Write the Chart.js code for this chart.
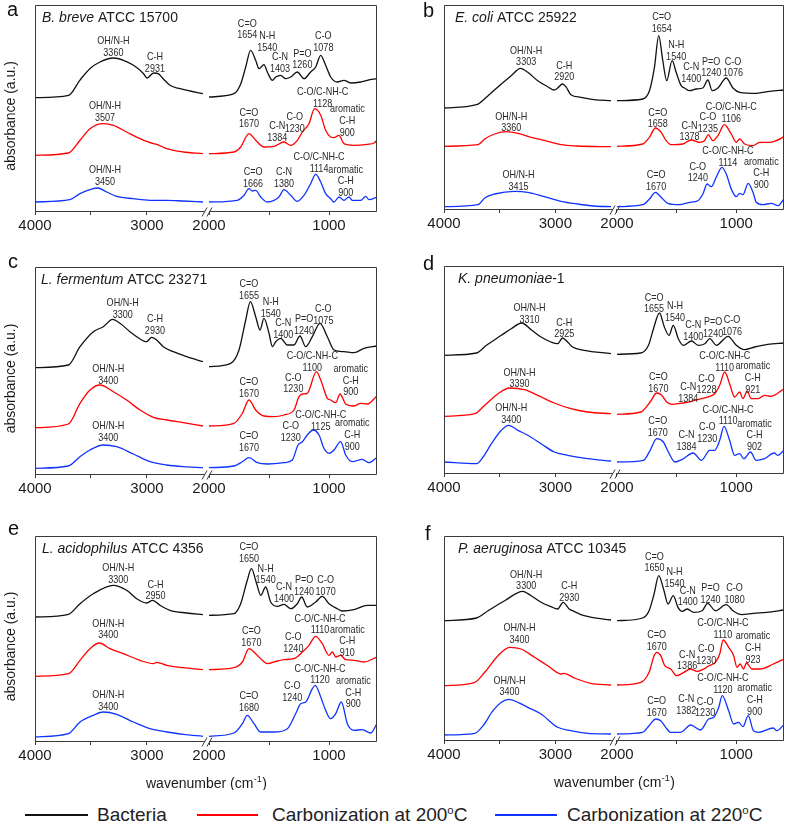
<!DOCTYPE html>
<html><head><meta charset="utf-8">
<script src="https://cdn.jsdelivr.net/npm/chart.js@4.4.1/dist/chart.umd.min.js"></script>
<style>
body{margin:0;background:#fff;width:789px;height:824px;position:relative;overflow:hidden;font-family:"Liberation Sans",Arial,sans-serif;}
canvas{position:absolute;}
.letter{position:absolute;font-size:20px;line-height:20px;color:#111;}
.li{position:absolute;top:803px;height:24px;line-height:24px;white-space:nowrap;font-size:19px;color:#222;}
.li sup{font-size:60%;vertical-align:top;line-height:14px;}
.ln{position:absolute;top:814px;height:2px;}
</style></head><body>
<script>
// ---------- DATA (wavenumber cm-1, absorbance a.u.) ----------
const panelLetters = ['a','b','c','d','e','f'];
const species = ['B. breve','E. coli','L. fermentum','K. pneumoniae','L. acidophilus','P. aeruginosa'];
const strains = [' ATCC 15700',' ATCC 25922',' ATCC 23271','-1',' ATCC 4356',' ATCC 10345'];
const seriesNames = ['Bacteria','Carbonization at 200°C','Carbonization at 220°C'];
const leftTicks = [4000, 3500, 3000];
const rightTicks = [2000, 1500, 1000];

const aBacteria = [[4000,113.3],[3700,115.7],[3600,130.7],[3510,142.3],[3420,149],[3300,153],[3210,150.7],[3120,145.7],[3030,137.3],[3000,133],[2940,138],[2900,137.3],[2855,132.3],[2795,125.7],[2705,122.3],[2615,120],[2500,117.3],
 [2000,114],[1792,117.3],[1736,127],[1694,144],[1653,160.7],[1611,150.7],[1583,142.3],[1542,146.3],[1514,139],[1472,130.7],[1444,134],[1403,135.7],[1361,132.3],[1319,134],[1264,139],[1208,132.3],[1153,139],[1111,144],[1069,155.7],[1028,145.7],[986,134],[931,129],[875,130.7],[819,128],[736,129],[681,130.7],[600,132.3]];
const aC200 = [[4000,55.7],[3702,58],[3598,70.7],[3509,82.3],[3390,87.3],[3300,85.7],[3182,79],[3062,72.3],[2943,67.3],[2914,66.7],[2824,62.3],[2676,59],[2500,57.3],
 [2000,57.3],[1792,59],[1736,64],[1667,77.3],[1611,70.7],[1542,64],[1458,64.7],[1375,69],[1319,65.7],[1264,70.7],[1222,79],[1167,87.3],[1120,102.3],[1069,95.7],[1028,80.7],[986,74],[958,73.3],[917,75.7],[875,67.3],[792,65.7],[681,66.7],[625,68],[600,70.7]];
const aC220 = [[4000,9],[3688,11.3],[3598,17.3],[3509,21.3],[3440,23],[3360,19],[3271,14.7],[3122,12.3],[2973,10.7],[2824,10.7],[2676,10],[2500,9],
 [2000,9],[1764,10.7],[1708,15.7],[1667,22.3],[1639,20],[1611,20.7],[1569,14],[1514,9],[1458,10.7],[1417,14],[1375,21.3],[1319,15.7],[1264,9.7],[1208,15.7],[1153,27.3],[1111,36.7],[1069,29],[1028,17.3],[986,12.3],[958,9],[917,14],[875,10.7],[833,14],[806,10.7],[736,10.7],[694,14.7],[667,11.3],[600,14]];

const bBacteria = [[4000,101],[3708,104.3],[3604,113.3],[3485,125],[3396,133.3],[3313,140.7],[3247,136.7],[3158,128.3],[3068,122.3],[3009,119],[2979,121],[2935,125],[2905,122.3],[2860,114.3],[2771,111.7],[2652,109.3],[2500,108.3],
 [2000,108.3],[1784,110],[1728,118.3],[1686,141.7],[1650,173.3],[1616,148.3],[1583,128.3],[1538,148.3],[1504,136.7],[1462,123.3],[1434,121],[1392,118.3],[1336,120],[1280,121],[1238,129],[1202,118.3],[1154,121],[1084,131],[1028,121],[972,116.7],[832,115.7],[720,117.7],[600,119]];
const bC200 = [[4000,62.7],[3694,64.3],[3634,70],[3545,75],[3440,77.3],[3336,75.7],[3217,71.7],[3068,67.7],[2949,64.3],[2801,63],[2500,62.3],
 [2000,62.7],[1784,65],[1728,71.7],[1678,81],[1630,76.7],[1588,68.3],[1546,64.3],[1448,65],[1378,69],[1308,66.7],[1266,68.3],[1235,74.3],[1196,68.3],[1154,73.3],[1100,84.3],[1042,75],[1000,66.7],[972,70],[930,65],[860,63.3],[804,66.7],[720,66.7],[664,68.3],[600,72.3]];
const bC220 = [[4000,2.3],[3694,4.3],[3634,11],[3545,15],[3366,17.7],[3247,16.7],[3098,12.3],[2949,7.7],[2801,5],[2652,3],[2500,2.3],
 [2000,2.3],[1784,4.3],[1728,10],[1678,16.7],[1630,11.7],[1574,5.7],[1476,4.3],[1392,6.7],[1322,8.3],[1280,15],[1244,25],[1210,22.3],[1168,31.7],[1120,41.7],[1084,35],[1042,20],[1000,12.3],[972,15.7],[944,14.3],[900,25.7],[860,16.7],[832,6.7],[776,4.3],[706,5.7],[650,3.3],[600,10]];

const cBacteria = [[4000,106.3],[3702,109],[3598,127.3],[3479,142.3],[3390,147.3],[3307,154.7],[3241,150.7],[3152,142.3],[3092,137.3],[3003,132.3],[2958,136.7],[2914,134],[2854,127.3],[2765,122.3],[2646,117.3],[2500,112.3],
 [2000,107.3],[1819,110.7],[1750,124],[1694,154],[1655,172.3],[1611,157.3],[1575,144],[1542,155.7],[1500,140.7],[1472,127.3],[1444,132.3],[1403,135.7],[1347,129],[1292,129],[1242,138],[1194,127.3],[1139,137.3],[1075,150.7],[1014,137.3],[958,124],[875,122.3],[792,121.3],[708,125.7],[600,128]];
const cC200 = [[4000,46.3],[3702,50],[3598,70.7],[3509,84],[3420,89],[3300,82.3],[3182,74],[3062,64],[2943,56.7],[2824,54],[2676,51.3],[2500,48],
 [2000,48],[1792,50.7],[1722,60.7],[1667,74],[1611,64],[1542,58],[1458,57.3],[1375,59],[1292,64],[1250,77.3],[1222,80],[1181,80.7],[1105,102.3],[1069,94],[1014,75.7],[986,74],[944,71.3],[908,80],[861,70],[792,68],[736,70.7],[681,70],[600,78]];
const cC220 = [[4000,5.7],[3702,8],[3598,17.3],[3509,24],[3390,29],[3271,27.3],[3122,20],[2973,12.3],[2824,9],[2676,7.3],[2500,6.3],
 [2000,6.3],[1792,8],[1722,12.3],[1667,16.3],[1597,11.3],[1514,10],[1375,11.3],[1306,14],[1258,29],[1222,32.3],[1181,39],[1131,44],[1083,39],[1042,25.7],[1000,20.7],[958,24],[903,32.3],[861,19],[806,12.3],[722,14.7],[667,11.3],[600,16.7]];

const dBacteria = [[4000,117.7],[3708,120],[3619,127.7],[3485,137.7],[3396,144.3],[3301,150],[3217,143.3],[3128,136],[3039,131],[2979,129.3],[2935,135],[2890,131],[2845,126],[2741,122.7],[2500,119.3],
 [2000,118.7],[1800,120],[1736,127.7],[1694,144.3],[1644,160],[1603,146],[1564,137.7],[1528,147.7],[1486,134.3],[1444,127.7],[1375,132],[1319,127.7],[1264,129.3],[1222,134.3],[1167,127.7],[1069,136.7],[1000,127.7],[931,123.3],[847,126],[736,128.7],[600,130]];
const dC200 = [[4000,56.7],[3723,59.3],[3634,67.7],[3515,79.3],[3411,85],[3277,83.3],[3158,77.7],[3009,70],[2860,64.3],[2711,61],[2500,59.3],
 [2000,58.7],[1800,61],[1722,71],[1667,80],[1625,77.7],[1583,71],[1542,68.7],[1486,69.3],[1375,71.7],[1292,74.3],[1222,76.7],[1181,79.3],[1139,87.7],[1097,101],[1056,89.3],[1014,76],[972,81],[944,74.3],[908,82],[875,74.3],[819,74.3],[764,77.7],[708,76.7],[600,84.3]];
const dC220 = [[4000,11],[3708,9.3],[3649,16],[3574,29.3],[3485,42.7],[3420,47.7],[3336,42.7],[3247,37.7],[3128,29.3],[3009,21],[2890,17.7],[2711,14.3],[2500,12],
 [2000,11],[1778,12.7],[1722,22.7],[1667,34.3],[1611,31],[1569,21],[1514,11],[1458,13.3],[1361,20],[1292,12.7],[1222,22.7],[1181,22.7],[1139,32.7],[1103,46.7],[1056,32.7],[1014,17.7],[972,19.3],[936,14.3],[881,21],[833,12.7],[764,14.3],[681,20],[653,17.7],[600,22.7]];

const eBacteria = [[4000,124],[3702,126.7],[3598,137.3],[3479,147.3],[3300,155.7],[3182,150.7],[3092,142.3],[3003,138],[2949,140.7],[2884,135.7],[2795,130.7],[2646,128],[2500,126.3],
 [2000,125.7],[1792,127.3],[1736,137.3],[1681,160.7],[1647,172.3],[1603,157.3],[1569,145.7],[1528,154],[1486,139],[1431,134.7],[1375,136.7],[1319,132.3],[1264,137.3],[1228,144],[1181,134],[1111,139],[1056,144.7],[1000,137.3],[931,132.3],[889,130],[792,131.3],[681,135.7],[600,135.7]];
const eC200 = [[4000,64.7],[3702,67.3],[3598,80.7],[3509,92.3],[3426,98],[3330,92.3],[3211,87.3],[3062,80.7],[2943,77.3],[2914,78.7],[2824,75.7],[2676,73.3],[2500,71.3],
 [2000,71.3],[1792,73.3],[1722,79],[1667,92.3],[1611,87.3],[1556,80.7],[1514,77.3],[1431,80],[1375,81.3],[1292,82.3],[1222,89],[1167,95.7],[1111,104.7],[1056,97.3],[1000,85.7],[972,89],[944,84],[903,85.7],[861,81.3],[792,80.7],[708,79],[600,84]];
const eC220 = [[4000,4],[3702,7.3],[3598,19],[3479,25.7],[3390,29],[3271,26.7],[3122,19],[2973,12.3],[2824,9],[2676,6.7],[2500,4.7],
 [2000,4.7],[1792,8],[1722,17.3],[1681,25.7],[1625,17.3],[1569,9],[1458,9],[1347,12.3],[1278,27.3],[1236,37.3],[1194,39],[1139,52.3],[1115,55.7],[1069,44],[1028,30.7],[986,22.3],[944,27.3],[897,39],[847,17.3],[792,10.7],[722,11.3],[653,8],[600,17.3]];

const fBacteria = [[4000,119.3],[3708,122],[3604,129.3],[3455,139.3],[3292,148.7],[3217,144.3],[3128,137.7],[3039,133.3],[2979,131],[2930,137.7],[2875,131],[2845,129.3],[2741,124.3],[2500,120],
 [2000,119.3],[1786,122],[1731,129.3],[1689,146],[1650,164.3],[1606,149.3],[1572,136],[1528,144.3],[1489,132.7],[1453,128.7],[1411,131],[1356,127.7],[1286,129.3],[1240,136.7],[1175,129.3],[1085,135.3],[1022,128.7],[953,125.3],[856,126.7],[744,127.7],[600,130]];
const fC200 = [[4000,54.3],[3723,57.7],[3634,67.7],[3515,84.3],[3411,92.7],[3307,91],[3187,82.7],[3068,74.3],[2949,66],[2920,66.7],[2830,62],[2682,56.7],[2500,55],
 [2000,55],[1800,57.7],[1731,67.7],[1689,84.3],[1667,87.7],[1633,84.3],[1600,74.3],[1550,71],[1500,64.3],[1439,67.7],[1386,71],[1328,68.7],[1272,71],[1230,74.3],[1175,77.7],[1139,86],[1110,100],[1064,92.7],[1022,84.3],[994,72.7],[967,76],[939,71],[915,77],[869,71],[800,71],[689,76],[600,81]];
const fC220 = [[4000,5],[3723,6.7],[3649,14.3],[3560,29.3],[3485,37.7],[3420,40.7],[3336,37.7],[3247,32.7],[3128,26],[2979,12.7],[2860,9.3],[2711,6.7],[2500,6],
 [2000,6],[1786,7.7],[1731,14.3],[1675,21],[1633,19.3],[1592,12.7],[1550,7.7],[1467,7.7],[1382,15],[1300,10],[1231,21],[1189,22.7],[1147,32.7],[1118,44.3],[1064,29.3],[1022,16],[981,17.7],[944,13.3],[900,24.3],[856,9.3],[814,7.7],[689,12],[661,9.3],[600,15.3]];

// peak labels: [wavenumber, absorbance, text]
const aNotes = [[3300,170,'OH/N-H\n3360'],[2929,154,'C-H\n2931'],[1681,187.3,'C=O\n1654'],[1514,174.7,'N-H\n1540'],[1408,154,'C-N\n1403'],[1222,157.3,'P=O\n1260'],[1047,174.7,'C-O\n1078'],
 [3375,104.7,'OH/N-H\n3507'],[1667,98.3,'C=O\n1670'],[1431,84.7,'C-N\n1384'],[1286,94,'C-O\n1230'],[1053,119,'C-O/C-NH-C\n1128'],[847,101.7,'aromatic\nC-H\n900'],
 [3375,40.7,'OH/N-H\n3450'],[1633,39,'C=O\n1666'],[1375,39,'C-N\n1380'],[1083,54,'C-O/C-NH-C\n1114'],[861,41.3,'aromatic\nC-H\n900']];
const bNotes = [[3262,158.3,'OH/N-H\n3303'],[2920,143.3,'C-H\n2920'],[1625,191.7,'C=O\n1654'],[1504,164,'N-H\n1540'],[1378,141.7,'C-N\n1400'],[1210,147.3,'P=O\n1240'],[1028,147.3,'C-O\n1076'],
 [3396,92.3,'OH/N-H\n3360'],[1658,96.3,'C=O\n1658'],[1392,83.3,'C-N\n1378'],[1238,91.7,'C-O\n1235'],[1042,101.7,'C-O/C-NH-C\n1106'],
 [3330,34,'OH/N-H\n3415'],[1672,34,'C=O\n1670'],[1322,42.3,'C-O\n1240'],[1070,57.7,'C-O/C-NH-C\n1114'],[790,47.3,'aromatic\nC-H\n900']];
const cNotes = [[3217,170.7,'OH/N-H\n3300'],[2929,154.7,'C-H\n2930'],[1667,189.7,'C=O\n1655'],[1486,171.7,'N-H\n1540'],[1381,150.7,'C-N\n1400'],[1208,155,'P=O\n1240'],[1047,165,'C-O\n1075'],
 [3345,104.7,'OH/N-H\n3400'],[1667,91.7,'C=O\n1670'],[1297,96.3,'C-O\n1230'],[1139,118,'C-O/C-NH-C\n1100'],[819,105,'aromatic\nC-H\n900'],
 [3345,48,'OH/N-H\n3400'],[1667,38,'C=O\n1670'],[1319,48,'C-O\n1230'],[1069,59,'C-O/C-NH-C\n1125'],[806,50.7,'aromatic\nC-H\n900']];
const dNotes = [[3232,165,'OH/N-H\n3310'],[2920,150.3,'C-H\n2925'],[1689,175.3,'C=O\n1655'],[1514,166.7,'N-H\n1540'],[1361,147.7,'C-N\n1400'],[1194,151,'P=O\n1240'],[1036,152.7,'C-O\n1076'],
 [3321,100.3,'OH/N-H\n3390'],[1653,96,'C=O\n1670'],[1403,86,'C-N\n1384'],[1250,94.3,'C-O\n1228'],[1097,116.7,'C-O/C-NH-C\n1110'],[861,106.7,'aromatic\nC-H\n921'],
 [3396,65,'OH/N-H\n3400'],[1658,52,'C=O\n1670'],[1417,37.7,'C-N\n1384'],[1244,46,'C-O\n1230'],[1069,63.3,'C-O/C-NH-C\n1110'],[847,49.3,'aromatic\nC-H\n902']];
const eNotes = [[3256,173,'OH/N-H\n3300'],[2923,156.3,'C-H\n2950'],[1667,194,'C=O\n1650'],[1528,172.3,'N-H\n1540'],[1375,154,'C-N\n1400'],[1208,160.7,'P=O\n1240'],[1028,160.7,'C-O\n1070'],
 [3345,117.3,'OH/N-H\n3400'],[1647,110,'C=O\n1670'],[1297,104,'C-O\n1240'],[1075,122.3,'C-O/C-NH-C\n1110'],[847,111.3,'aromatic\nC-H\n910'],
 [3345,45.7,'OH/N-H\n3400'],[1667,44.7,'C=O\n1680'],[1306,55,'C-O\n1240'],[1075,72.3,'C-O/C-NH-C\n1120'],[797,60,'aromatic\nC-H\n900']];
const fNotes = [[3262,165.3,'OH/N-H\n3300'],[2875,153.7,'C-H\n2930'],[1686,183.3,'C=O\n1650'],[1518,167.7,'N-H\n1540'],[1406,149.3,'C-N\n1400'],[1216,151.7,'P=O\n1240'],[1014,151.7,'C-O\n1080'],
 [3321,111.7,'OH/N-H\n3400'],[1667,105,'C=O\n1670'],[1412,85.3,'C-N\n1386'],[1252,91,'C-O\n1230'],[1112,116.7,'C-O/C-NH-C\n1110'],[860,103.7,'aromatic\nC-H\n923'],
 [3411,59.3,'OH/N-H\n3400'],[1667,38.7,'C=O\n1670'],[1420,41,'C-N\n1382'],[1261,38.3,'C-O\n1230'],[1112,61.7,'C-O/C-NH-C\n1120'],[846,51.7,'aromatic\nC-H\n900']];

const panelSeries = [[aBacteria,aC200,aC220],[bBacteria,bC200,bC220],[cBacteria,cC200,cC220],[dBacteria,dC200,dC220],[eBacteria,eC200,eC220],[fBacteria,fC200,fC220]];
const panelNotes = [aNotes,bNotes,cNotes,dNotes,eNotes,fNotes];
const yMax = [206,204,207,207,205,204];

// ---------- STYLE / LAYOUT ----------
const FAM = '"Liberation Sans", Arial, sans-serif';
const colors = ['#111111','#ff0000','#1034ff'];
const boxes = [
 {left:0,top:0,w:395,h:250,pad:{left:35,right:18,top:5,bottom:9},tx:7},
 {left:395,top:0,w:394,h:250,pad:{left:49,right:5,top:5,bottom:11},tx:11},
 {left:0,top:255,w:395,h:250,pad:{left:35,right:18,top:12,bottom:1},tx:6},
 {left:395,top:255,w:394,h:250,pad:{left:49,right:5,top:11,bottom:2},tx:14},
 {left:0,top:520,w:395,h:270,pad:{left:35,right:18,top:16,bottom:19},tx:7},
 {left:395,top:520,w:394,h:270,pad:{left:49,right:5,top:16,bottom:20},tx:14}
];
const letterPos = [[7,-1],[423,0],[8,251],[423,253],[8,518],[425,523]];

Chart.defaults.font.family = FAM;

const deco = {
 id:'deco',
 afterDatasetsDraw(chart, args, o){
  const {ctx, chartArea:ca} = chart;
  const xL = chart.scales.xL, xR = chart.scales.xR, ys = chart.scales.y;
  ctx.save();
  // frame with axis break
  ctx.strokeStyle = '#3a3a3a'; ctx.lineWidth = 1;
  const L = Math.round(ca.left)+0.5, R = Math.round(ca.right)-0.5, T = Math.round(ca.top)+0.5, B = Math.round(ca.bottom)+0.5;
  const brk = Math.round(xR.left);
  ctx.beginPath();
  ctx.moveTo(brk-4, B); ctx.lineTo(L, B); ctx.lineTo(L, T); ctx.lineTo(R, T); ctx.lineTo(R, B); ctx.lineTo(brk+1, B);
  ctx.stroke();
  ctx.beginPath();
  ctx.moveTo(brk-7, B+5); ctx.lineTo(brk-2, B-4);
  ctx.moveTo(brk-2, B+5); ctx.lineTo(brk+3, B-4);
  ctx.stroke();
  // peak labels (slightly condensed, like the source figure)
  ctx.fillStyle = '#2a2a2a';
  ctx.font = '10.5px ' + FAM;
  ctx.textAlign = 'center'; ctx.textBaseline = 'middle';
  for (const [wn, v, txt] of o.notes) {
   const sc = wn >= 2300 ? xL : xR;
   const x = sc.getPixelForValue(wn), y = ys.getPixelForValue(v);
   ctx.save();
   ctx.translate(x, y);
   ctx.scale(0.86, 1);
   txt.split('\n').forEach((line, i) => ctx.fillText(line, 0, i*11.7));
   ctx.restore();
  }
  // panel title (italic species + strain)
  ctx.textAlign = 'left'; ctx.textBaseline = 'alphabetic'; ctx.fillStyle = '#1a1a1a';
  ctx.font = 'italic 14px ' + FAM;
  const tx = ca.left + o.tx, ty = ca.top + 17;
  ctx.fillText(o.species, tx, ty);
  const w = ctx.measureText(o.species).width;
  ctx.font = '14px ' + FAM;
  ctx.fillText(o.strain, tx + w, ty);
  // y title
  if (o.yTitle) {
   ctx.save();
   ctx.translate(11, (ca.top + ca.bottom)/2 + 8);
   ctx.rotate(-Math.PI/2);
   ctx.textAlign = 'center'; ctx.textBaseline = 'middle';
   ctx.font = '14px ' + FAM; ctx.fillStyle = '#1a1a1a';
   ctx.fillText('absorbance (a.u.)', 0, 0);
   ctx.restore();
  }
  // x title
  if (o.xTitle) {
   ctx.font = '14px ' + FAM; ctx.fillStyle = '#1a1a1a';
   const p1 = 'wavenumber (cm', sup = '-1', p2 = ')';
   const w1 = ctx.measureText(p1).width, w3 = ctx.measureText(p2).width;
   ctx.font = '9px ' + FAM; const w2 = ctx.measureText(sup).width;
   const cx = (ca.left + ca.right)/2, by = ca.bottom + 47;
   let x0 = cx - (w1+w2+w3)/2;
   ctx.font = '14px ' + FAM; ctx.fillText(p1, x0, by);
   ctx.font = '9px ' + FAM; ctx.fillText(sup, x0 + w1 + 0.5, by - 6);
   ctx.font = '14px ' + FAM; ctx.fillText(p2, x0 + w1 + w2 + 1, by);
  }
  ctx.restore();
 }
};

function xScale(min, max, weight, ticks){
 return {
  type:'linear', position:'bottom', stack:'x', stackWeight:weight, reverse:true, min, max,
  afterBuildTicks: s => { s.ticks = ticks.map(v => ({value:v})); },
  afterFit: s => { s.height = 30; },
  ticks:{ autoSkip:false, maxRotation:0, padding:2, color:'#1a1a1a', font:{size:15, family:FAM},
          callback: v => (v % 1000 === 0 ? String(v) : '') },
  grid:{ display:true, drawOnChartArea:false, drawTicks:true, tickLength:4, color:'#3a3a3a', lineWidth:1 },
  border:{ display:false }
 };
}

panelSeries.forEach((series, p) => {
 const b = boxes[p];
 const cv = document.createElement('canvas');
 cv.width = b.w; cv.height = b.h;
 cv.style.left = b.left + 'px'; cv.style.top = b.top + 'px';
 cv.style.width = b.w + 'px'; cv.style.height = b.h + 'px';
 document.body.appendChild(cv);
 const datasets = [];
 series.forEach((arr, s) => {
  const common = { label: seriesNames[s], borderColor: colors[s], backgroundColor: colors[s], borderWidth: 1.3,
                   pointRadius: 0, fill: false, cubicInterpolationMode: 'monotone', yAxisID: 'y' };
  datasets.push(Object.assign({}, common, { xAxisID:'xL', data: arr.filter(q => q[0] >= 2300).map(q => ({x:q[0], y:q[1]})) }));
  datasets.push(Object.assign({}, common, { xAxisID:'xR', data: arr.filter(q => q[0] <= 2000).map(q => ({x:q[0], y:q[1]})) }));
 });
 new Chart(cv, {
  type:'line',
  data:{ datasets },
  options:{
   responsive:false, animation:false, devicePixelRatio:1,
   layout:{ padding:b.pad, autoPadding:false },
   plugins:{ legend:{display:false}, tooltip:{enabled:false},
     deco:{ notes: panelNotes[p], species: species[p], strain: strains[p], tx: b.tx,
            yTitle: p % 2 === 0, xTitle: p >= 4 } },
   scales:{
    xL: xScale(2446, 4000, 174, leftTicks),
    xR: xScale(600, 2000, 168, rightTicks),
    y: { display:false, min:0, max:yMax[p] }
   }
  },
  plugins:[deco]
 });
 const lt = document.createElement('div');
 lt.className = 'letter'; lt.textContent = panelLetters[p];
 lt.style.left = letterPos[p][0] + 'px'; lt.style.top = letterPos[p][1] + 'px';
 document.body.appendChild(lt);
});

// legend
const legendPos = [[25,63,97],[197,61,272],[495,62,567]];
seriesNames.forEach((name, s) => {
 const [lx, lw, tx] = legendPos[s];
 const ln = document.createElement('div');
 ln.className = 'ln'; ln.style.left = lx + 'px'; ln.style.width = lw + 'px'; ln.style.background = colors[s];
 document.body.appendChild(ln);
 const t = document.createElement('div');
 t.className = 'li'; t.style.left = tx + 'px';
 if (name.includes('°C')) {
  const base = name.replace('°C','');
  t.append(base);
  const sp = document.createElement('sup'); sp.textContent = 'o'; t.append(sp);
  t.append('C');
 } else t.textContent = name;
 document.body.appendChild(t);
});
</script>
</body></html>
